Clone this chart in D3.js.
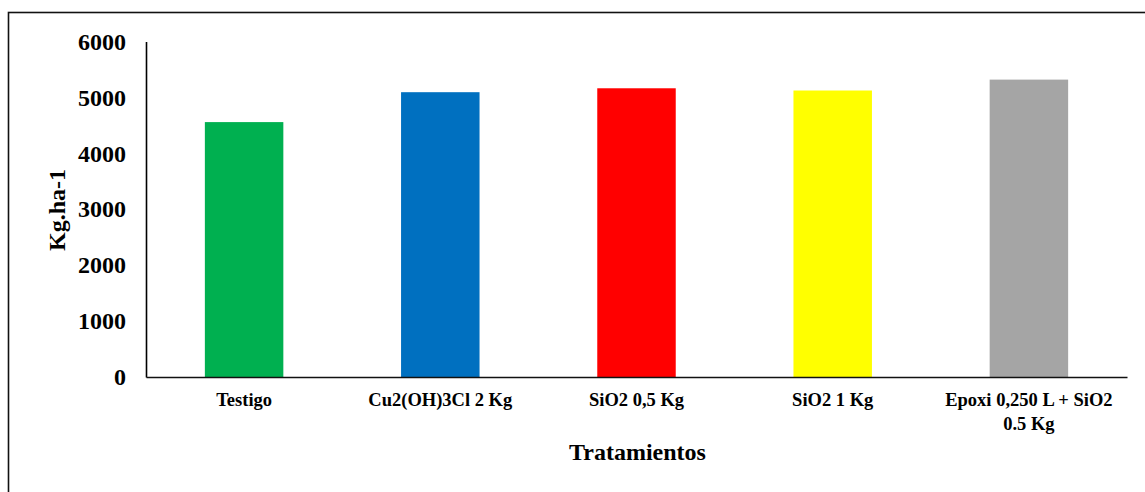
<!DOCTYPE html>
<html>
<head>
<meta charset="utf-8">
<script src="https://cdn.jsdelivr.net/npm/d3@7"></script>
<style>
  html, body { margin: 0; padding: 0; background: #fff; }
  svg { display: block; font-family: "Liberation Serif", "Times New Roman", serif; }
</style>
</head>
<body>
<svg id="chart" width="1145" height="492"></svg>
<script>
// Yield per treatment (Kg.ha-1)
const categories = ["Testigo", "Cu2(OH)3Cl 2 Kg", "SiO2 0,5 Kg", "SiO2 1 Kg", "Epoxi 0,250 L + SiO2 0.5 Kg"];
const yields = [4560, 5095, 5165, 5125, 5320];
const barColors = ["#00B050", "#0070C0", "#FF0000", "#FFFF00", "#A5A5A5"];
const yTicks = [0, 1000, 2000, 3000, 4000, 5000, 6000];

const svg = d3.select("#chart");
const W = 1145, H = 492;

// outer frame
svg.append("rect")
  .attr("x", 8.5).attr("y", 12.5)
  .attr("width", W + 20).attr("height", H + 20)
  .attr("fill", "none").attr("stroke", "#111").attr("stroke-width", 1.6);

const plot = { left: 146, right: 1127, top: 41.6, bottom: 377 };

const x = d3.scaleBand()
  .domain(categories)
  .range([plot.left, plot.right])
  .paddingInner(0.6)
  .paddingOuter(0.3);

const y = d3.scaleLinear()
  .domain([0, 6000])
  .range([plot.bottom, plot.top]);

// bars
svg.append("g").selectAll("rect")
  .data(categories)
  .join("rect")
  .attr("x", d => x(d))
  .attr("y", (d, i) => y(yields[i]))
  .attr("width", x.bandwidth())
  .attr("height", (d, i) => y(0) - y(yields[i]))
  .attr("fill", (d, i) => barColors[i]);

// y axis
const yAxis = svg.append("g")
  .attr("transform", `translate(${plot.left},0)`)
  .call(d3.axisLeft(y).tickValues(yTicks).tickFormat(d3.format("d")).tickSize(0).tickPadding(20));
yAxis.select(".domain").attr("stroke", "#000").attr("stroke-width", 1.6);
yAxis.selectAll("text")
  .attr("font-family", "'Liberation Serif', 'Times New Roman', serif")
  .attr("font-size", 24).attr("font-weight", "bold").attr("fill", "#000");

// x axis
const xAxis = svg.append("g")
  .attr("transform", `translate(0,${plot.bottom})`)
  .call(d3.axisBottom(x).tickSize(0).tickPadding(0).tickSizeOuter(0));
xAxis.select(".domain").attr("stroke", "#111").attr("stroke-width", 1.6);
xAxis.selectAll("text").remove();

// category labels, wrapped onto two lines where needed
const wrapLines = d => d === "Epoxi 0,250 L + SiO2 0.5 Kg" ? ["Epoxi 0,250 L + SiO2", "0.5 Kg"] : [d];
xAxis.selectAll(".tick").each(function(d) {
  const t = d3.select(this).append("text")
    .attr("text-anchor", "middle")
    .attr("font-family", "'Liberation Serif', 'Times New Roman', serif")
    .attr("font-size", 18.5).attr("font-weight", "bold").attr("fill", "#000");
  wrapLines(d).forEach((line, i) => {
    t.append("tspan").attr("x", 0).attr("y", 29 + i * 24).text(line);
  });
});

// axis titles
svg.append("text")
  .attr("x", (plot.left + plot.right) / 2 + 1)
  .attr("y", 460)
  .attr("text-anchor", "middle")
  .attr("font-size", 24).attr("font-weight", "bold").attr("fill", "#000")
  .text("Tratamientos");

svg.append("text")
  .attr("transform", "translate(65,210) rotate(-90)")
  .attr("text-anchor", "middle")
  .attr("font-size", 24).attr("font-weight", "bold").attr("fill", "#000")
  .text("Kg.ha-1");
</script>
</body>
</html>
